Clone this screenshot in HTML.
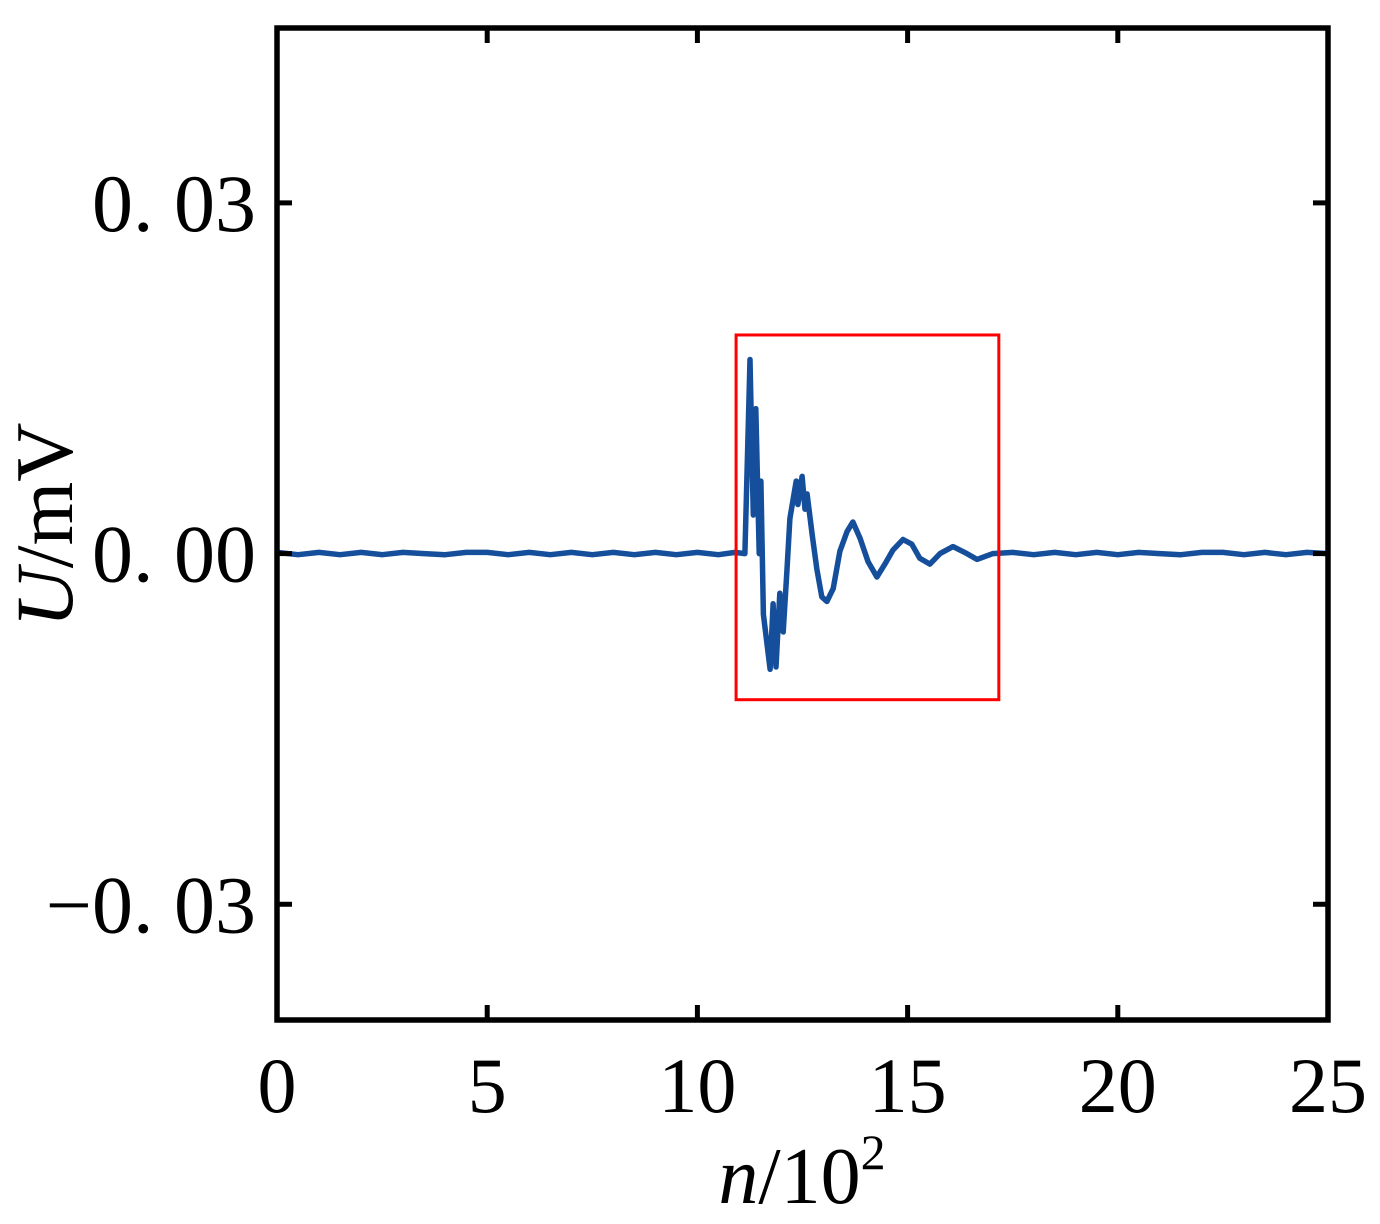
<!DOCTYPE html>
<html><head><meta charset="utf-8"><style>
body{margin:0;background:#fff}
svg text{font-family:"Liberation Serif",serif;fill:#000}
</style></head><body>
<svg width="1380" height="1219" viewBox="0 0 1380 1219" xmlns="http://www.w3.org/2000/svg">
<g id="plot"></g>
<g id="axes"></g>
<text x="802" y="1203" font-size="80" text-anchor="middle"><tspan font-style="italic">n</tspan>/10<tspan font-size="50" dy="-34">2</tspan></text>
<text transform="translate(72,525) rotate(-90)" font-size="82" text-anchor="middle"><tspan font-style="italic">U</tspan>/mV</text>
</svg>
<script>
const xTicks=[0,5,10,15,20,25];
const xTickLabels=["0","5","10","15","20","25"];
const yTicks=[-0.03,0,0.03];
const yTickLabels=["\u22120. 03","0. 00","0. 03"];
const baseN=[0,0.5,1,1.5,2,2.5,3,3.5,4,4.5,5,5.5,6,6.5,7,7.5,8,8.5,9,9.5,10,10.5,10.9];
const baseU=[0.0001,-0.0001,0.0001,-0.0001,0.0001,-0.0001,0.0001,0,-0.0001,0.0001,0.0001,-0.0001,0.0001,-0.0001,0.0001,-0.0001,0.0001,-0.0001,0.0001,-0.0001,0.0001,-0.0001,0.0001];
const burstN=[11.13,11.25,11.33,11.39,11.47,11.51,11.57,11.73,11.80,11.87,11.96,12.04,12.13,12.2,12.35,12.39,12.49,12.56,12.61,12.73,12.84,12.96,13.08,13.23,13.39,13.56,13.70,13.87,14.06,14.27,14.46,14.65,14.89,15.10,15.29,15.53,15.77,16.08,16.41,16.65,17.03];
const burstU=[0,0.0166,0.0033,0.0124,0,0.0062,-0.0052,-0.0099,-0.0043,-0.0097,-0.0034,-0.0067,-0.0015,0.003,0.0062,0.0042,0.0066,0.0038,0.0051,0.0016,-0.0013,-0.0037,-0.0041,-0.003,0.0002,0.0019,0.0027,0.0013,-0.0007,-0.002,-0.0009,0.0003,0.0012,0.0008,-0.0004,-0.0009,0,0.0006,0,-0.0005,0];
const tailN=[17.5,18,18.5,19,19.5,20,20.5,21,21.5,22,22.5,23,23.5,24,24.5,25];
const tailU=[0.0001,-0.0001,0.0001,-0.0001,0.0001,-0.0001,0.0001,0,-0.0001,0.0001,0.0001,-0.0001,0.0001,-0.0001,0.0001,0];
const boxN=[10.92,17.17];
const boxU=[-0.0125,0.0187];
const X0=277,X1=1328,Y0=1020,Y1=28;
const xD=[0,25],yD=[-0.0399,0.04496];
const sx=v=>X0+(v-xD[0])/(xD[1]-xD[0])*(X1-X0);
const sy=v=>Y0-(v-yD[0])/(yD[1]-yD[0])*(Y0-Y1);
const NS="http://www.w3.org/2000/svg";
const plot=document.getElementById('plot'),axes=document.getElementById('axes');
function mk(t,a,p){const e=document.createElementNS(NS,t);for(const k in a)e.setAttribute(k,a[k]);p.appendChild(e);return e;}
const N=[...baseN,...burstN,...tailN],U=[...baseU,...burstU,...tailU];
const line=mk('path',{d:N.map((n,i)=>(i?'L':'M')+sx(n).toFixed(1)+','+sy(U[i]).toFixed(1)).join(''),fill:'none',stroke:'#154f9b','stroke-width':5.5,'stroke-linejoin':'round'},plot);


const box=mk('rect',{x:sx(boxN[0]),y:sy(boxU[1]),width:sx(boxN[1])-sx(boxN[0]),height:sy(boxU[0])-sy(boxU[1]),fill:'none',stroke:'#ff0000','stroke-width':3},plot);


const frame=mk('rect',{x:X0,y:Y1,width:X1-X0,height:Y0-Y1,fill:'none',stroke:'#000','stroke-width':5.5},axes);


xTicks.forEach((v,i)=>{
  const x=sx(v);
  if(i>0&&i<xTicks.length-1){
    mk('line',{x1:x,x2:x,y1:Y0,y2:Y0-15,stroke:'#000','stroke-width':5},axes);
    mk('line',{x1:x,x2:x,y1:Y1,y2:Y1+15,stroke:'#000','stroke-width':5},axes);
  }
  const t=mk('text',{x:x,y:1112,'font-size':78,'text-anchor':'middle'},axes);
  t.textContent=xTickLabels[i];
  
  
});
yTicks.forEach((v,i)=>{
  const y=sy(v);
  mk('line',{x1:X0,x2:X0+15,y1:y,y2:y,stroke:'#000','stroke-width':5},axes);
  mk('line',{x1:X1,x2:X1-15,y1:y,y2:y,stroke:'#000','stroke-width':5},axes);
  const t=mk('text',{x:256,y:y+28,'font-size':82,'text-anchor':'end'},axes);
  t.textContent=yTickLabels[i];
  
  
});
</script>
</body></html>
